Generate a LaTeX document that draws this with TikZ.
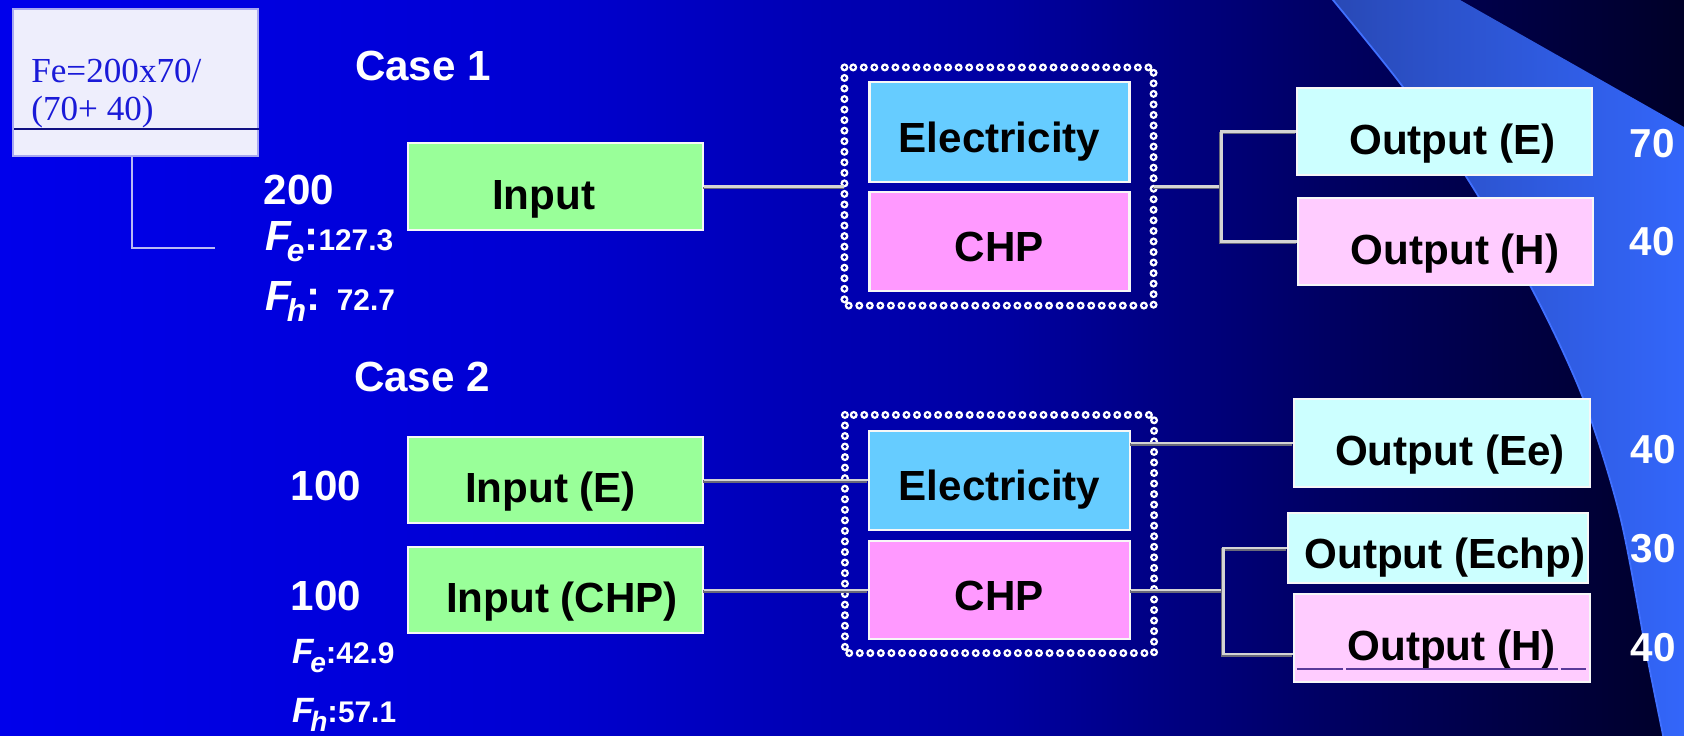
\documentclass[tikz,border=0pt]{standalone}
\usepackage{fontspec}
\newfontfamily\arial{Liberation Sans}
\newfontfamily\tnr{Liberation Serif}
\definecolor{bg0}{RGB}{0,0,235}
\definecolor{bg1}{RGB}{0,0,212}
\definecolor{bg2}{RGB}{0,0,160}
\definecolor{bg3}{RGB}{0,0,95}
\definecolor{bg4}{RGB}{0,0,40}
\pgfdeclarehorizontalshading{bgshade}{100bp}{color(0bp)=(bg0); color(25bp)=(bg0); color(40bp)=(bg1); color(55bp)=(bg2); color(65bp)=(bg3); color(75bp)=(bg4); color(100bp)=(bg4)}
\definecolor{elec}{HTML}{66CCFF}
\definecolor{chpc}{HTML}{FF99FF}
\definecolor{inc}{HTML}{99FF99}
\definecolor{oec}{HTML}{CCFFFF}
\definecolor{ohc}{HTML}{FFCCFF}
\definecolor{wire}{HTML}{D4D4D4}
\definecolor{wireshadow}{HTML}{6A6A7A}
\definecolor{calfill}{HTML}{EEEEFC}
\definecolor{calline}{HTML}{A8A8F0}
\definecolor{caltext}{HTML}{1A1AD8}
\definecolor{swL}{HTML}{2848B4}
\definecolor{swR}{HTML}{3366FA}
\definecolor{swedge}{HTML}{4070FF}
\definecolor{hole}{RGB}{0,0,150}
\definecolor{uline}{HTML}{5A3A9A}
\newcommand\Flab[6]{{\fontsize{#3}{#3}\selectfont\bfseries\itshape F\kern-0.1em\raisebox{-0.28em}{\fontsize{#4}{#4}\selectfont #1}}{\fontsize{#5}{#5}\selectfont\bfseries :}{\fontsize{#6}{#6}\selectfont\bfseries #2}}
\tikzset{
  box/.style={draw=white!94!gray, line width=1.5pt, font=\arial\bfseries\fontsize{24}{24}\selectfont, text=black, text height=31pt, text depth=5pt, inner sep=0pt, anchor=center},
  wbox/.style={box, minimum width=5.9cm, minimum height=1.74cm},
  cbox/.style={box, minimum width=5.2cm, minimum height=1.98cm, text height=28pt, text depth=5.2pt},
  grp/.style={inner sep=0pt, minimum width=6.17cm, minimum height=4.75cm},
  ringA/.style={draw=white, line width=4.6pt, dash pattern=on 0pt off 6pt, line cap=round},
  ringB/.style={draw=hole, line width=2pt, dash pattern=on 0pt off 6pt, line cap=round},
  wire/.style={draw=wire, line width=1.6pt, preaction={draw=wireshadow, line width=1.6pt, transform canvas={xshift=-0.5pt, yshift=-0.9pt}}},
  wtext/.style={text=white, inner sep=0pt, font=\arial\bfseries\fontsize{24}{24}\selectfont},
  num/.style={text=white, inner sep=0pt, font=\arial\bfseries\fontsize{23}{23}\selectfont},
  flab/.style={text=white, inner sep=0pt, anchor=base west, font=\arial},
  caltxt/.style={anchor=base west, text=caltext, inner sep=0pt, font=\tnr\fontsize{20}{20}\selectfont}
}
\begin{document}
\begin{tikzpicture}[x=0.02cm, y=-0.02cm]
\useasboundingbox (0,0) rectangle (1684,735);
% background
\shade[shading=bgshade] (0,0) rectangle (1684,735);
\begin{scope}
\clip (0,0) rectangle (1684,735);
\shade[left color=swL, right color=swR] (1684,740) -- plot[smooth] coordinates {(1664,740) (1647,656) (1620,516) (1583,398) (1533,291) (1467,178) (1403,87) (1333,0) (1326,-8)} -- (1446,-8) -- (1684,127) -- cycle;
\draw[swedge, line width=1pt] plot[smooth] coordinates {(1664,740) (1647,656) (1620,516) (1583,398) (1533,291) (1467,178) (1403,87) (1333,0) (1326,-8)};
\end{scope}

% callout
\node[draw=calline, line width=1.5pt, fill=calfill, minimum width=4.9cm, minimum height=2.94cm, inner sep=0pt] (callout) at (135.5,82.5) {};
\node[caltxt] (cl1) at (31,82) {Fe=200x70/};
\node[caltxt] (cl2) at (31,120) {(70+ 40)};
\coordinate (calrule) at (14,129);
\draw[caltext!60!black, line width=0.8pt] (calrule) -- (calrule -| callout.east);
\coordinate (leadend) at (215,248);
\draw[calline!80!white, line width=1.2pt] ([xshift=-0.07cm]callout.south) |- (leadend);

% labels case 1
\node[wtext] (case1) at (423,66) {Case 1};
\node[wtext] (v200) at (299,190) {200};
\node[flab] (fe1) at (265,250) {\Flab{e}{127.3}{24}{18}{24}{17}};
\node[flab] (fh1) at (265,310) {\Flab{h}{\ \ 72.7}{24}{18}{24}{17}};

% labels case 2
\node[wtext] (case2) at (422,377) {Case 2};
\node[wtext] (v100a) at (326,486) {100};
\node[wtext] (v100b) at (326,596) {100};
\node[flab] (fe2) at (292,663) {\Flab{e}{42.9}{20}{16}{18}{17}};
\node[flab] (fh2) at (292,722) {\Flab{h}{57.1}{20}{16}{18}{17}};

% groups (dotted)
\node[grp] (g1) at (999,186.5) {};
\node[grp] (g2) at (999.5,534) {};
\foreach \g in {g1,g2}{
  \draw[ringA] (\g.north west) rectangle (\g.south east);
  \draw[ringB] (\g.north west) rectangle (\g.south east);
}

% boxes case 1
\node[wbox, fill=inc] (in1) at (555.5,186.5) {Input\hspace*{13.6pt}};
\node[cbox, fill=elec, minimum height=2.0cm] (el1) at (999.5,132) {Electricity};
\node[cbox, fill=chpc] (chp1) at (999.5,241.5) {CHP};
\node[wbox, fill=oec] (oe1) at (1444.5,131.5) {\hspace*{9pt}Output (E)};
\node[wbox, fill=ohc] (oh1) at (1445.5,241.5) {\hspace*{11pt}Output (H)};

% boxes case 2
\node[wbox, fill=inc, minimum height=1.72cm] (ie2) at (555.5,480) {Input (E)\hspace*{5.7pt}};
\node[wbox, fill=inc, minimum height=1.72cm] (ic2) at (555.5,590) {\hspace*{7.4pt}Input (CHP)};
\node[cbox, fill=elec, minimum width=5.22cm] (el2) at (999.5,480.5) {Electricity};
\node[cbox, fill=chpc, minimum width=5.22cm, minimum height=1.96cm] (chp2) at (999.5,590) {CHP};
\node[wbox, fill=oec, minimum width=5.92cm, minimum height=1.76cm] (oee) at (1442,443) {\hspace*{9pt}Output (Ee)};
\node[wbox, fill=oec, minimum width=6.0cm, minimum height=1.4cm, text height=28pt] (oechp) at (1438,548) {\hspace*{8pt}Output (Echp)};
\node[wbox, fill=ohc, minimum width=5.92cm, minimum height=1.76cm] (oh2) at (1442,638) {\hspace*{11pt}Output (H)};
\draw[uline, line width=0.6pt] (1297,669) -- (1343,669) (1346,669) -- (1558,669) (1561,669) -- (1586,669);

% connectors case 1
\draw[wire] (in1.east) -- (in1.east -| g1.west);
\path (g1.east) ++(68,0) coordinate (b1);
\draw[wire] (g1.east) -- (b1);
\draw[wire] (oe1.west) -| (b1) |- (oh1.west);

% connectors case 2
\draw[wire] (ie2.east) -- (ie2.east -| el2.west);
\draw[wire] (ic2.east) -- (ic2.east -| chp2.west);
\draw[wire] (el2.east |- oee.west) -- (oee.west);
\path (chp2.east) ++(92,0) coordinate (b2);
\draw[wire] (chp2.east) -- (b2);
\draw[wire] (oechp.west) -| (b2) |- ([yshift=-0.32cm]oh2.west);

% output values
\node[num] (n70) at (1652,144) {70};
\node[num] (n40a) at (1652,242) {40};
\node[num] (n40b) at (1653,450) {40};
\node[num] (n30) at (1653,549) {30};
\node[num] (n40c) at (1653,648) {40};
\end{tikzpicture}
\end{document}
